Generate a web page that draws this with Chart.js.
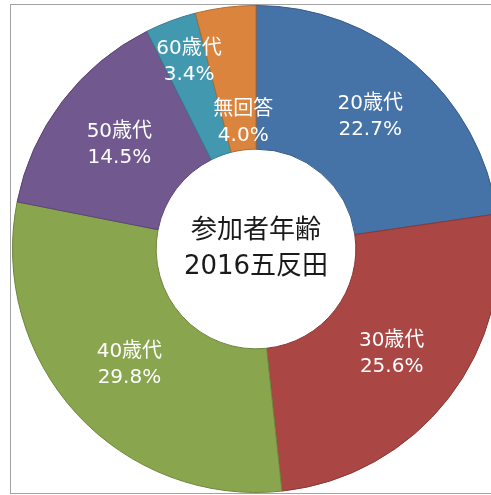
<!DOCTYPE html>
<html>
<head>
<meta charset="utf-8">
<script src="https://cdn.jsdelivr.net/npm/chart.js@4.4.1/dist/chart.umd.min.js"></script>
<style>
    html, body { margin: 0; padding: 0; background: #fff; overflow: hidden; }
    body { width: 491px; height: 495px; position: relative; }
    #frame {
        position: absolute; left: 10px; top: 4px; width: 700px; height: 488px;
        border-left: 1px solid #a3a3a3; border-top: 1px solid #a3a3a3; border-bottom: 1px solid #a3a3a3;
    }
    #age-chart { position: absolute; left: 12px; top: 5px; }
</style>
</head>
<body>
<div id="frame"></div>
<canvas id="age-chart" width="488" height="488"></canvas>
<script>
// 参加者年齢 2016五反田
const categories = ['20歳代', '30歳代', '40歳代', '50歳代', '60歳代', '無回答'];
const percents = [22.7, 25.6, 29.8, 14.5, 3.4, 4.0];
const centerTitle = ['参加者年齢', '2016五反田'];

const fillColors = ['#4572a7', '#aa4643', '#89a54e', '#71588f', '#4198af', '#db843d'];
const edgeColors = ['#365b87', '#8a3735', '#6e853e', '#5a4673', '#337a8d', '#b06a2f'];

// ラベル位置（リング内の半径方向の割合）
const labelRadius = [0.52, 0.5, 0.5, 0.5, 0.69, 0.19];
const labelShift = [0, 0, 0, 0, 0.015, 0.025]; // 角度の微調整（rad）

const labelPlugin = {
    id: 'sliceLabels',
    afterDatasetsDraw(chart) {
        const ctx = chart.ctx;
        const meta = chart.getDatasetMeta(0);
        ctx.save();
        ctx.textAlign = 'center';
        ctx.textBaseline = 'middle';
        ctx.fillStyle = '#ffffff';
        ctx.font = '20px "DejaVu Sans", "Noto Sans CJK JP", sans-serif';
        meta.data.forEach((arc, i) => {
            const p = arc.getProps(['x', 'y', 'startAngle', 'endAngle', 'innerRadius', 'outerRadius'], true);
            const mid = (p.startAngle + p.endAngle) / 2 + labelShift[i];
            const r = p.innerRadius + (p.outerRadius - p.innerRadius) * labelRadius[i];
            const x = p.x + Math.cos(mid) * r;
            const y = p.y + Math.sin(mid) * r;
            ctx.fillText(categories[i], x, y - 13);
            ctx.fillText(percents[i].toFixed(1) + '%', x, y + 13);
        });

        // 中央のタイトル
        const c = meta.data[0];
        ctx.fillStyle = '#1a1a1a';
        ctx.font = '26px "DejaVu Sans", "Noto Sans CJK JP", sans-serif';
        ctx.fillText(centerTitle[0], c.x, c.y - 18);
        ctx.fillText(centerTitle[1], c.x, c.y + 18);
        ctx.restore();
    }
};

new Chart(document.getElementById('age-chart').getContext('2d'), {
    type: 'doughnut',
    data: {
        labels: categories,
        datasets: [{
            data: percents,
            backgroundColor: fillColors,
            borderColor: edgeColors,
            borderWidth: 1
        }]
    },
    options: {
        responsive: false,
        animation: false,
        cutout: '41%',
        layout: { padding: 0 },
        plugins: {
            legend: { display: false },
            tooltip: { enabled: false }
        }
    },
    plugins: [labelPlugin]
});
</script>
</body>
</html>
